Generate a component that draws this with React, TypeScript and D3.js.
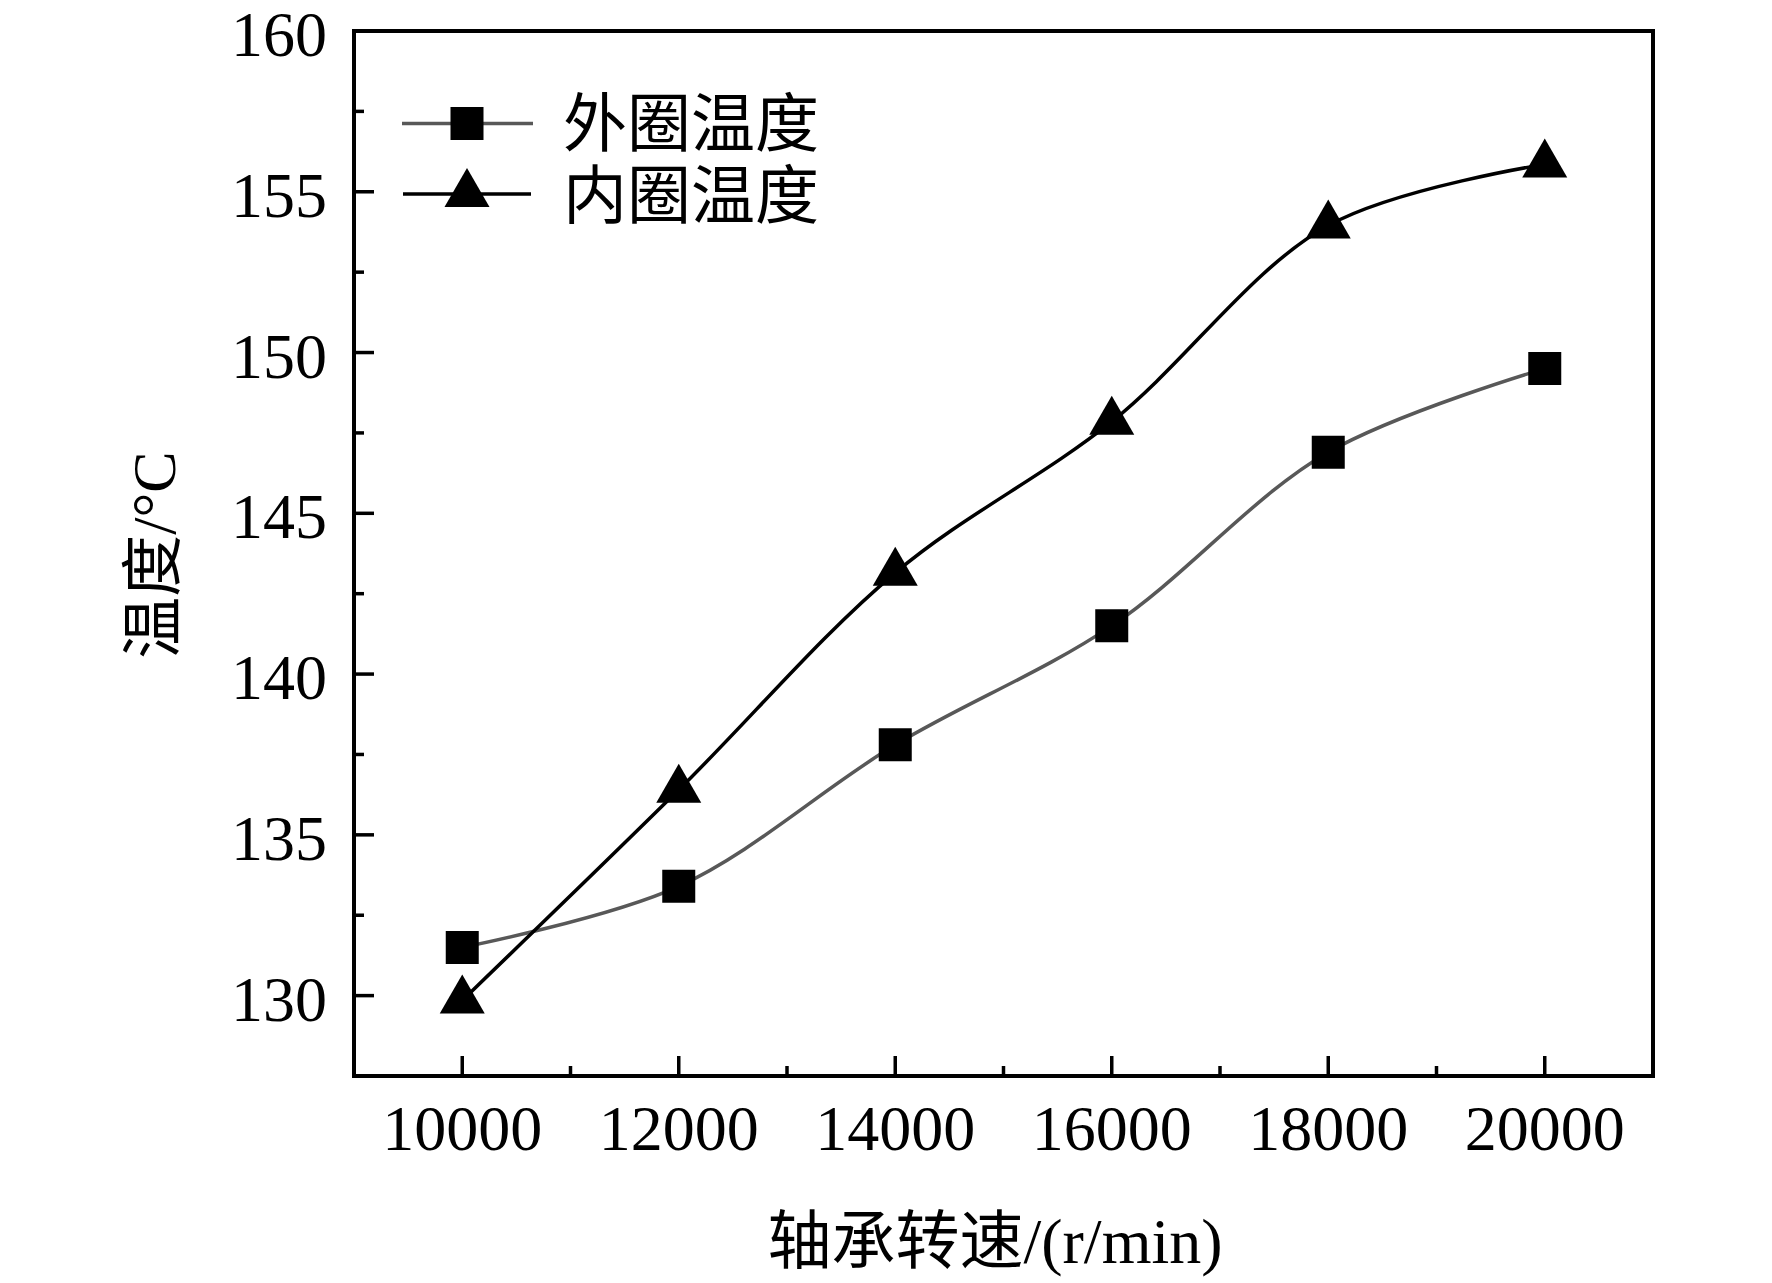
import * as d3 from "d3";

// bearing speed (r/min)
const speeds = [10000, 12000, 14000, 16000, 18000, 20000];
// temperatures, °C
const outerTemp = [131.5, 133.4, 137.8, 141.5, 146.9, 149.5];
const innerTemp = [129.85, 136.4, 143.15, 147.85, 153.95, 155.85];

const xMajor = [10000, 12000, 14000, 16000, 18000, 20000];
const xMinor = [11000, 13000, 15000, 17000, 19000];
const yMajor = [130, 135, 140, 145, 150, 155, 160];
const yMinor = [132.5, 137.5, 142.5, 147.5, 152.5, 157.5];

const seriesNames = ["外圈温度", "内圈温度"];

const WIDTH = 1772;
const HEIGHT = 1283;
const margin = { left: 354, right: 1653, top: 31, bottom: 1076 };
const FONT = "'Liberation Serif', 'Noto Sans CJK SC', serif";
const GRAY = "#585858";

const squarePath = d3.symbol(d3.symbolSquare, 33 * 33)()!;
const trianglePath = d3.symbol(d3.symbolTriangle, 877)()!;

export default function App() {
  const xScale = d3.scaleLinear().domain([9000, 21000]).range([margin.left, margin.right]);
  const yScale = d3.scaleLinear().domain([127.5, 160]).range([margin.bottom, margin.top]);

  const line = d3
    .line<number>()
    .x((_, i) => xScale(speeds[i]))
    .y((d) => yScale(d))
    .curve(d3.curveCatmullRom);

  return (
    <svg
      width={WIDTH}
      height={HEIGHT}
      style={{ position: "absolute", left: 0, top: 0, background: "#fff" }}
      fontFamily={FONT}
    >
      {/* curves */}
      <path d={line(outerTemp) || ""} fill="none" stroke={GRAY} strokeWidth={3.5} />
      <path d={line(innerTemp) || ""} fill="none" stroke="#000" strokeWidth={3.5} />

      {/* markers */}
      {outerTemp.map((v, i) => (
        <path key={"s" + i} d={squarePath} transform={`translate(${xScale(speeds[i])},${yScale(v)})`} fill="#000" />
      ))}
      {innerTemp.map((v, i) => (
        <path key={"t" + i} d={trianglePath} transform={`translate(${xScale(speeds[i])},${yScale(v)})`} fill="#000" />
      ))}

      {/* frame */}
      <rect
        x={margin.left}
        y={margin.top}
        width={margin.right - margin.left}
        height={margin.bottom - margin.top}
        fill="none"
        stroke="#000"
        strokeWidth={4}
      />

      {/* y ticks (inward) */}
      {yMajor.map((v) => (
        <g key={"ym" + v}>
          <line x1={margin.left} x2={margin.left + 20} y1={yScale(v)} y2={yScale(v)} stroke="#000" strokeWidth={3.5} />
          <text x={327} y={yScale(v) + 25} textAnchor="end" fontSize={64}>
            {v}
          </text>
        </g>
      ))}
      {yMinor.map((v) => (
        <line key={"yn" + v} x1={margin.left} x2={margin.left + 10} y1={yScale(v)} y2={yScale(v)} stroke="#000" strokeWidth={3.5} />
      ))}

      {/* x ticks (inward) */}
      {xMajor.map((v) => (
        <g key={"xm" + v}>
          <line x1={xScale(v)} x2={xScale(v)} y1={margin.bottom} y2={margin.bottom - 20} stroke="#000" strokeWidth={3.5} />
          <text x={xScale(v)} y={1150} textAnchor="middle" fontSize={64}>
            {v}
          </text>
        </g>
      ))}
      {xMinor.map((v) => (
        <line key={"xn" + v} x1={xScale(v)} x2={xScale(v)} y1={margin.bottom} y2={margin.bottom - 10} stroke="#000" strokeWidth={3.5} />
      ))}

      {/* axis titles */}
      <text x={995} y={1263} textAnchor="middle" fontSize={64}>
        轴承转速/(r/min)
      </text>
      <text transform="translate(175,555) rotate(-90)" textAnchor="middle" fontSize={62}>
        温度/°C
      </text>

      {/* legend */}
      <g>
        <line x1={402} x2={533} y1={123.5} y2={123.5} stroke={GRAY} strokeWidth={3.5} />
        <path d={squarePath} transform="translate(467,123.5)" fill="#000" />
        <text x={563} y={124} dominantBaseline="central" fontSize={64}>
          {seriesNames[0]}
        </text>
        <line x1={403} x2={531} y1={194} y2={194} stroke="#000" strokeWidth={3.5} />
        <path d={trianglePath} transform="translate(467,194)" fill="#000" />
        <text x={563} y={196} dominantBaseline="central" fontSize={64}>
          {seriesNames[1]}
        </text>
      </g>
    </svg>
  );
}
